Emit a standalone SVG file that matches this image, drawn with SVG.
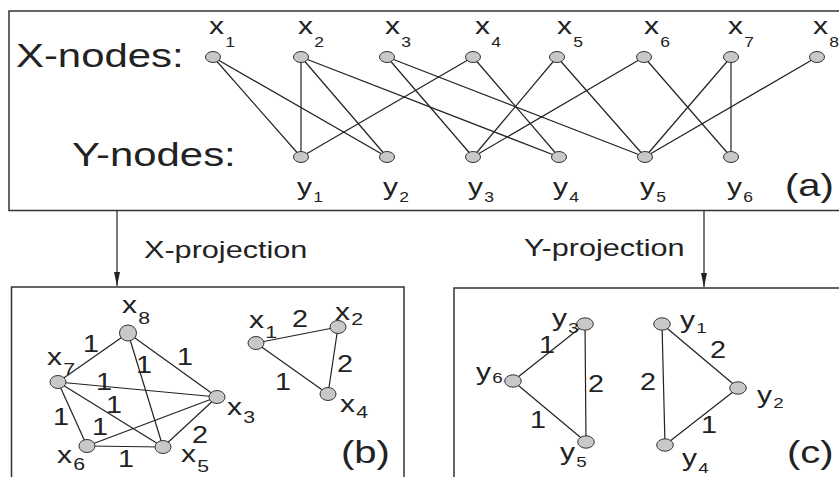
<svg xmlns="http://www.w3.org/2000/svg" width="839" height="477" viewBox="0 0 839 477">
<defs>
<style>
.t{font-family:"Liberation Sans",Arial,sans-serif;fill:#222}
.big{font-size:33.5px}
.lab{font-size:24px}
.w{font-size:23px;text-anchor:middle}
.par{font-size:32px}
.box{fill:none;stroke:#333;stroke-width:1.5}
.e{stroke:#222;stroke-width:1.2;fill:none}
.n{fill:#c8c8c8;stroke:#333;stroke-width:1}
</style>
<marker id="ah" viewBox="0 0 14 6" markerWidth="14" markerHeight="6" refX="14" refY="3" orient="auto" markerUnits="userSpaceOnUse">
<path d="M0,0 L14,3 L0,6 z" fill="#222"/>
</marker>
</defs>
<rect width="839" height="477" fill="#fff"/>

<!-- frames -->
<rect class="box" x="9" y="11" width="840" height="199.5"/>
<rect class="box" x="11.5" y="287" width="392.5" height="200"/>
<rect class="box" x="454" y="288" width="400" height="200"/>

<!-- panel titles -->
<text class="t big" transform="translate(16,67) scale(1.25,1)">X-nodes:</text>
<text class="t big" transform="translate(72,166) scale(1.25,1)">Y-nodes:</text>
<text class="t par" transform="translate(785,196) scale(1.25,1)">(a)</text>
<text class="t par" transform="translate(341,463) scale(1.25,1)">(b)</text>
<text class="t par" transform="translate(787,463) scale(1.25,1)">(c)</text>
<text class="t lab" style="font-size:24.5px" transform="translate(144,258) scale(1.25,1)">X-projection</text>
<text class="t lab" style="font-size:24.5px" transform="translate(524,256) scale(1.25,1)">Y-projection</text>

<!-- connectors -->
<g id="connectors">
<line class="e" x1="117" y1="211" x2="117" y2="286" marker-end="url(#ah)"/>
<line class="e" x1="704" y1="211" x2="704" y2="287" marker-end="url(#ah)"/>
<!-- bipartite -->
<line class="e" x1="213" y1="57" x2="301" y2="157"/>
<line class="e" x1="213" y1="57" x2="387" y2="157"/>
<line class="e" x1="301" y1="57" x2="301" y2="157"/>
<line class="e" x1="301" y1="57" x2="387" y2="157"/>
<line class="e" x1="301" y1="57" x2="559" y2="157"/>
<line class="e" x1="387" y1="57" x2="473" y2="157"/>
<line class="e" x1="387" y1="57" x2="645" y2="157"/>
<line class="e" x1="473" y1="57" x2="301" y2="157"/>
<line class="e" x1="473" y1="57" x2="559" y2="157"/>
<line class="e" x1="557" y1="57" x2="473" y2="157"/>
<line class="e" x1="557" y1="57" x2="645" y2="157"/>
<line class="e" x1="644" y1="57" x2="473" y2="157"/>
<line class="e" x1="644" y1="57" x2="731" y2="157"/>
<line class="e" x1="731" y1="57" x2="645" y2="157"/>
<line class="e" x1="731" y1="57" x2="731" y2="157"/>
<line class="e" x1="817" y1="57" x2="645" y2="157"/>
<!-- X projection -->
<line class="e" x1="128" y1="333" x2="58" y2="382"/>
<line class="e" x1="128" y1="333" x2="163" y2="447"/>
<line class="e" x1="128" y1="333" x2="217" y2="397"/>
<line class="e" x1="58" y1="382" x2="217" y2="397"/>
<line class="e" x1="58" y1="382" x2="163" y2="447"/>
<line class="e" x1="58" y1="382" x2="87" y2="446"/>
<line class="e" x1="87" y1="446" x2="217" y2="397"/>
<line class="e" x1="87" y1="446" x2="163" y2="447"/>
<line class="e" x1="163" y1="447" x2="217" y2="397"/>
<line class="e" x1="256" y1="343" x2="338" y2="327"/>
<line class="e" x1="256" y1="343" x2="328" y2="394"/>
<line class="e" x1="338" y1="327" x2="328" y2="394"/>
<!-- Y projection -->
<line class="e" x1="585" y1="324" x2="513" y2="381"/>
<line class="e" x1="585" y1="324" x2="586" y2="442"/>
<line class="e" x1="513" y1="381" x2="586" y2="442"/>
<line class="e" x1="662" y1="324" x2="738" y2="388"/>
<line class="e" x1="662" y1="324" x2="665" y2="445"/>
<line class="e" x1="738" y1="388" x2="665" y2="445"/>
</g>

<!-- edge weights -->
<g id="weights">
<text class="t w" transform="translate(91,352) scale(1.25,1)">1</text>
<text class="t w" transform="translate(185,365) scale(1.25,1)">1</text>
<text class="t w" transform="translate(144,373) scale(1.25,1)">1</text>
<text class="t w" transform="translate(104,390) scale(1.25,1)">1</text>
<text class="t w" transform="translate(114,413) scale(1.25,1)">1</text>
<text class="t w" transform="translate(100,435) scale(1.25,1)">1</text>
<text class="t w" transform="translate(61,425) scale(1.25,1)">1</text>
<text class="t w" transform="translate(126,467) scale(1.25,1)">1</text>
<text class="t w" transform="translate(200,443) scale(1.25,1)">2</text>
<text class="t w" transform="translate(300,327) scale(1.25,1)">2</text>
<text class="t w" transform="translate(345,372) scale(1.25,1)">2</text>
<text class="t w" transform="translate(283,390) scale(1.25,1)">1</text>
<text class="t w" transform="translate(547,353) scale(1.25,1)">1</text>
<text class="t w" transform="translate(596,392) scale(1.25,1)">2</text>
<text class="t w" transform="translate(538,428) scale(1.25,1)">1</text>
<text class="t w" transform="translate(648,390) scale(1.25,1)">2</text>
<text class="t w" transform="translate(718,358) scale(1.25,1)">2</text>
<text class="t w" transform="translate(709,433) scale(1.25,1)">1</text>
</g>

<!-- (a) X nodes -->
<g id="a-x1"><ellipse class="n" cx="213" cy="57" rx="7.5" ry="5.5"/><text class="t lab" transform="translate(209,34) scale(1.25,1)">x<tspan dx="1" dy="13" font-size="14">1</tspan></text></g>
<g id="a-x2"><ellipse class="n" cx="301" cy="57" rx="7.5" ry="5.5"/><text class="t lab" transform="translate(298,34) scale(1.25,1)">x<tspan dx="1" dy="13" font-size="14">2</tspan></text></g>
<g id="a-x3"><ellipse class="n" cx="387" cy="57" rx="7.5" ry="5.5"/><text class="t lab" transform="translate(385,34) scale(1.25,1)">x<tspan dx="1" dy="13" font-size="14">3</tspan></text></g>
<g id="a-x4"><ellipse class="n" cx="473" cy="57" rx="7.5" ry="5.5"/><text class="t lab" transform="translate(475,34) scale(1.25,1)">x<tspan dx="1" dy="13" font-size="14">4</tspan></text></g>
<g id="a-x5"><ellipse class="n" cx="557" cy="57" rx="7.5" ry="5.5"/><text class="t lab" transform="translate(557,34) scale(1.25,1)">x<tspan dx="1" dy="13" font-size="14">5</tspan></text></g>
<g id="a-x6"><ellipse class="n" cx="644" cy="57" rx="7.5" ry="5.5"/><text class="t lab" transform="translate(644,34) scale(1.25,1)">x<tspan dx="1" dy="13" font-size="14">6</tspan></text></g>
<g id="a-x7"><ellipse class="n" cx="731" cy="57" rx="7.5" ry="5.5"/><text class="t lab" transform="translate(728,34) scale(1.25,1)">x<tspan dx="1" dy="13" font-size="14">7</tspan></text></g>
<g id="a-x8"><ellipse class="n" cx="817" cy="57" rx="7.5" ry="5.5"/><text class="t lab" transform="translate(813,34) scale(1.25,1)">x<tspan dx="1" dy="13" font-size="14">8</tspan></text></g>

<!-- (a) Y nodes -->
<g id="a-y1"><ellipse class="n" cx="301" cy="157" rx="7.5" ry="5.5"/><text class="t lab" transform="translate(297,195) scale(1.25,1)">y<tspan dx="1" dy="7" font-size="14">1</tspan></text></g>
<g id="a-y2"><ellipse class="n" cx="387" cy="157" rx="7.5" ry="5.5"/><text class="t lab" transform="translate(383,195) scale(1.25,1)">y<tspan dx="1" dy="7" font-size="14">2</tspan></text></g>
<g id="a-y3"><ellipse class="n" cx="473" cy="157" rx="7.5" ry="5.5"/><text class="t lab" transform="translate(468,195) scale(1.25,1)">y<tspan dx="1" dy="7" font-size="14">3</tspan></text></g>
<g id="a-y4"><ellipse class="n" cx="559" cy="157" rx="7.5" ry="5.5"/><text class="t lab" transform="translate(553,195) scale(1.25,1)">y<tspan dx="1" dy="7" font-size="14">4</tspan></text></g>
<g id="a-y5"><ellipse class="n" cx="645" cy="157" rx="7.5" ry="5.5"/><text class="t lab" transform="translate(640,195) scale(1.25,1)">y<tspan dx="1" dy="7" font-size="14">5</tspan></text></g>
<g id="a-y6"><ellipse class="n" cx="731" cy="157" rx="7.5" ry="5.5"/><text class="t lab" transform="translate(727,195) scale(1.25,1)">y<tspan dx="1" dy="7" font-size="14">6</tspan></text></g>

<!-- (b) X projection nodes -->
<g id="b-x8"><ellipse class="n" cx="128" cy="333" rx="8.5" ry="8"/><text class="t lab" transform="translate(122,313) scale(1.25,1)">x<tspan dx="1" dy="11" font-size="17">8</tspan></text></g>
<g id="b-x7"><ellipse class="n" cx="58" cy="382" rx="8" ry="6.5"/><text class="t lab" transform="translate(47,365) scale(1.25,1)">x<tspan dx="1" dy="10" font-size="17">7</tspan></text></g>
<g id="b-x6"><ellipse class="n" cx="87" cy="446" rx="8" ry="6.5"/><text class="t lab" transform="translate(57,463) scale(1.25,1)">x<tspan dx="1" dy="7" font-size="17">6</tspan></text></g>
<g id="b-x5"><ellipse class="n" cx="163" cy="447" rx="8" ry="6.5"/><text class="t lab" transform="translate(181,462) scale(1.25,1)">x<tspan dx="1" dy="10" font-size="17">5</tspan></text></g>
<g id="b-x3"><ellipse class="n" cx="217" cy="397" rx="8" ry="6.5"/><text class="t lab" transform="translate(227,415) scale(1.25,1)">x<tspan dx="1" dy="8" font-size="17">3</tspan></text></g>
<g id="b-x1"><ellipse class="n" cx="256" cy="343" rx="8" ry="6.5"/><text class="t lab" transform="translate(249,328) scale(1.25,1)">x<tspan dx="1" dy="10" font-size="17">1</tspan></text></g>
<g id="b-x2"><ellipse class="n" cx="338" cy="327" rx="8" ry="6.5"/><text class="t lab" transform="translate(335,320) scale(1.25,1)">x<tspan dx="1" dy="5" font-size="17">2</tspan></text></g>
<g id="b-x4"><ellipse class="n" cx="328" cy="394" rx="8" ry="6.5"/><text class="t lab" transform="translate(340,412) scale(1.25,1)">x<tspan dx="1" dy="6" font-size="17">4</tspan></text></g>

<!-- (c) Y projection nodes -->
<g id="c-y3"><ellipse class="n" cx="585" cy="324" rx="8.3" ry="6.2"/><text class="t lab" transform="translate(552,326) scale(1.25,1)">y<tspan dx="1" dy="7" font-size="15">3</tspan></text></g>
<g id="c-y6"><ellipse class="n" cx="513" cy="381" rx="8.3" ry="6.2"/><text class="t lab" transform="translate(476,380) scale(1.25,1)">y<tspan dx="1" dy="3" font-size="15">6</tspan></text></g>
<g id="c-y5"><ellipse class="n" cx="586" cy="442" rx="8.3" ry="6.2"/><text class="t lab" transform="translate(560,460) scale(1.25,1)">y<tspan dx="1" dy="7" font-size="15">5</tspan></text></g>
<g id="c-y1"><ellipse class="n" cx="662" cy="324" rx="8.3" ry="6.2"/><text class="t lab" transform="translate(680,328) scale(1.25,1)">y<tspan dx="1" dy="5" font-size="15">1</tspan></text></g>
<g id="c-y2"><ellipse class="n" cx="738" cy="388" rx="8.3" ry="6.2"/><text class="t lab" transform="translate(757,403) scale(1.25,1)">y<tspan dx="1" dy="5" font-size="15">2</tspan></text></g>
<g id="c-y4"><ellipse class="n" cx="665" cy="445" rx="8.3" ry="6.2"/><text class="t lab" transform="translate(682,466) scale(1.25,1)">y<tspan dx="1" dy="7" font-size="15">4</tspan></text></g>
</svg>
